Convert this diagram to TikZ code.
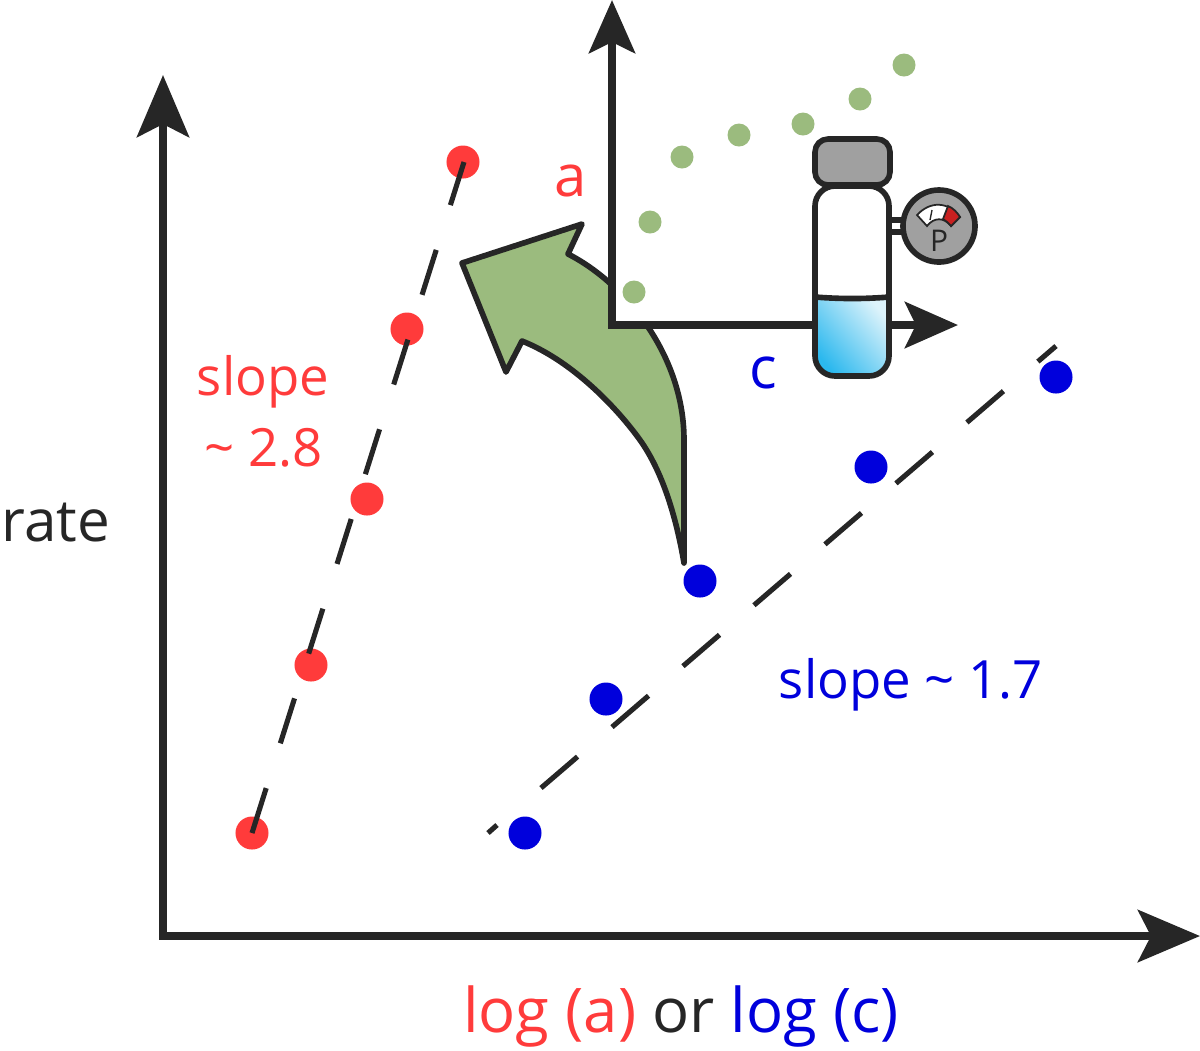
\documentclass[tikz,border=0pt]{standalone}
\usepackage{fontspec}
\setmainfont{Open Sans}
\usetikzlibrary{arrows.meta}
\definecolor{myred}{HTML}{FF3B3B}
\definecolor{myblue}{HTML}{0000DC}
\definecolor{mygreen}{HTML}{9BBB7E}
\definecolor{myblack}{HTML}{262626}
\definecolor{mygray}{HTML}{A0A0A0}
\definecolor{gaugered}{HTML}{C82020}
\definecolor{lightliquid}{HTML}{DDF3FB}
\definecolor{darkliquid}{HTML}{2BB8EE}
\tikzset{
reddot/.style={circle,fill=myred,inner sep=0pt,minimum size=0.33cm},
bluedot/.style={circle,fill=myblue,inner sep=0pt,minimum size=0.33cm},
greendot/.style={circle,fill=mygreen,inner sep=0pt,minimum size=0.23cm},
bigaxis/.style={myblack,line width=2.3pt,{Stealth[length=0.62cm,width=0.52cm,inset=0.13cm]}-{Stealth[length=0.62cm,width=0.52cm,inset=0.13cm]}},
smallaxis/.style={myblack,line width=2.3pt,{Stealth[length=0.53cm,width=0.46cm,inset=0.11cm]}-{Stealth[length=0.53cm,width=0.46cm,inset=0.11cm]}},
fitline/.style={myblack,line width=1.45pt},
outline/.style={draw=myblack,line width=1.6pt,line join=round},
label/.style={font=\fontsize{15}{18}\selectfont,inner sep=0pt},
}

\begin{document}
\begin{tikzpicture}[x=0.01cm,y=-0.01cm]
\useasboundingbox (0,0) rectangle (1200,1050);

\coordinate (big_top) at (163,75);
\coordinate (big_origin) at (163,936);
\coordinate (big_right) at (1200,936);
\coordinate (small_top) at (612,0);
\coordinate (small_origin) at (612,325);
\coordinate (small_right) at (958,325);

\draw [bigaxis] (big_top) -- (big_origin) -- (big_right);

\draw [outline,fill=mygreen] (462,263) -- (582,224) -- (568,254)
 .. controls (625,283) and (684,355) .. (684,440) -- (684,563)
 .. controls (675,510) and (660,468) .. (640,440)
 .. controls (620,412) and (575,362) .. (522,341) -- (506,372) -- cycle;
\fill [white] (612,200) rectangle (720,325);

\draw [smallaxis] (small_top) -- (small_origin) -- (small_right);

\node[reddot](red_a) at (252,833){};
\node[reddot](red_b) at (311,665){};
\node[reddot](red_c) at (367,499){};
\node[reddot](red_d) at (407,329){};
\node[reddot](red_e) at (463,162){};

\node[bluedot](blue_a) at (525,833){};
\node[bluedot](blue_b) at (606,699){};
\node[bluedot](blue_c) at (700,581){};
\node[bluedot](blue_d) at (871,467){};
\node[bluedot](blue_e) at (1056,377){};

\node[greendot](green_a) at (634,292){};
\node[greendot](green_b) at (650,222){};
\node[greendot](green_c) at (682,157){};
\node[greendot](green_d) at (739,135){};
\node[greendot](green_e) at (803,124){};
\node[greendot](green_f) at (860,99){};
\node[greendot](green_g) at (904,65){};

\coordinate (redfit_start) at (252,833);
\coordinate (redfit_end) at (464,162);
\coordinate (bluefit_start) at (488,833);
\coordinate (bluefit_stub) at (497,825);
\coordinate (bluefit_next) at (541,788);
\coordinate (bluefit_end) at (1056,346);
\draw [fitline,dash pattern=on 13.4pt off 13.35pt] (redfit_start) -- (redfit_end);
\draw [fitline] (bluefit_start) -- (bluefit_stub);
\draw [fitline,dash pattern=on 13.7pt off 12.9pt] (bluefit_next) -- (bluefit_end);

\draw [outline] (889,220) -- (903,220) (889,232) -- (903,232);
\path [shading=axis,left color=darkliquid,right color=lightliquid,shading angle=130] [sharp corners] (815,297) -- (889,297) [rounded corners=0.2cm] -- (889,376) -- (815,376) [sharp corners] -- cycle;
\draw [outline,rounded corners=0.2cm] (815,376) rectangle (889,186);
\draw [outline] (815,297) .. controls (840,299) and (865,299) .. (889,297);
\draw [outline,fill=mygray,rounded corners=0.13cm] (815,139) rectangle (890,185);

\node[circle,outline,fill=mygray,minimum size=0.72cm,inner sep=0pt](gauge) at (939,226){};
\node[inner sep=0pt,myblack,font=\fontsize{8.5}{9}\selectfont](gauge_p) at (939,241){P};
\draw [draw=myblack,line width=0.5pt,fill=white] (917,215) .. controls (930,201) and (948,201) .. (960,217) -- (951,226) .. controls (944,217) and (934,217) .. (927,226) -- cycle;
\draw [draw=myblack,line width=0.5pt,fill=gaugered] (948,206) .. controls (953,208) and (957,212) .. (960,217) -- (951,226) .. controls (949,223) and (946,221) .. (943,219) -- cycle;
\draw [myblack,line width=0.4pt] (932,210) -- (930,220);

\node[label,myred,font=\fontsize{16.5}{18}\selectfont](a_label) at (571,181){a};
\node[label,myblue,font=\fontsize{16.5}{18}\selectfont](c_label) at (763,373){c};
\node[label,myred](red_slope) at (263,382){slope};
\node[label,myred](red_value) at (264,448){\textasciitilde{} 2.8};
\node[label,myblue](blue_slope) at (911,685){slope \textasciitilde{} 1.7};
\node[label,myblack,font=\fontsize{16.6}{18}\selectfont](rate_label) at (56,523){rate};
\node[label,font=\fontsize{17.5}{20}\selectfont](x_label) at (681,1016){\textcolor{myred}{log (a)} \textcolor{myblack}{or} \textcolor{myblue}{log (c)}};
\end{tikzpicture}
\end{document}
